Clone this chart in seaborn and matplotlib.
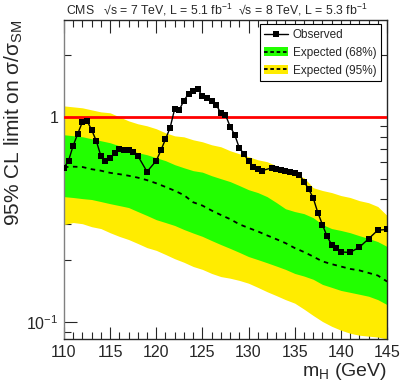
import numpy as np
import pandas as pd
import matplotlib
matplotlib.use("Agg")
import matplotlib.pyplot as plt
import seaborn as sns
from matplotlib.patches import Patch
from matplotlib.lines import Line2D
from matplotlib.ticker import FixedLocator, LogLocator, NullFormatter, MultipleLocator

# observed limit (mH in GeV, limit on sigma/sigma_SM)
obs_mass = [110.0, 110.5, 111.0, 111.5, 112.0, 112.5, 113.0, 113.5, 114.0, 114.5,
            115.0, 115.5, 116.0, 116.5, 117.0, 117.5, 118.0, 119.0, 120.0, 120.5,
            121.0, 121.5, 122.0, 122.5, 123.0, 123.5, 124.0, 124.5, 125.0, 125.5,
            126.0, 126.5, 127.0, 127.5, 128.0, 128.5, 129.0, 129.5, 130.0, 130.5,
            131.0, 131.5, 132.5, 133.0, 133.5, 134.0, 134.5, 135.0, 135.5, 136.0,
            136.5, 137.0, 137.5, 138.0, 138.5, 139.0, 139.5, 140.0, 141.0, 142.0,
            143.0, 144.0, 145.0]
obs_limit = [0.564, 0.611, 0.723, 0.827, 0.943, 0.956, 0.865, 0.765, 0.647, 0.607,
             0.627, 0.664, 0.697, 0.692, 0.686, 0.671, 0.647, 0.541, 0.611, 0.686,
             0.778, 0.884, 1.094, 1.081, 1.200, 1.293, 1.337, 1.363, 1.264, 1.236,
             1.200, 1.144, 1.042, 1.023, 0.897, 0.818, 0.705, 0.661, 0.607, 0.570,
             0.557, 0.548, 0.564, 0.557, 0.553, 0.543, 0.537, 0.533, 0.523, 0.484,
             0.446, 0.403, 0.342, 0.299, 0.262, 0.239, 0.229, 0.220, 0.219, 0.232,
             0.255, 0.281, 0.283]

# expected limit and bands, 1 GeV steps
exp_mass = list(range(110, 146))
exp_median = [0.569, 0.572, 0.570, 0.556, 0.547, 0.534, 0.526, 0.517, 0.506, 0.492,
              0.475, 0.456, 0.437, 0.416, 0.384, 0.370, 0.350, 0.333, 0.318, 0.300,
              0.288, 0.277, 0.265, 0.254, 0.243, 0.230, 0.220, 0.209, 0.198, 0.192,
              0.187, 0.182, 0.179, 0.174, 0.169, 0.158]
band68_hi = [0.818, 0.809, 0.800, 0.782, 0.765, 0.748, 0.723, 0.692, 0.669, 0.654,
             0.632, 0.612, 0.585, 0.565, 0.547, 0.538, 0.517, 0.500, 0.484, 0.463,
             0.442, 0.428, 0.409, 0.383, 0.357, 0.346, 0.338, 0.323, 0.299, 0.286,
             0.280, 0.273, 0.264, 0.256, 0.247, 0.234]
band68_lo = [0.409, 0.405, 0.400, 0.396, 0.387, 0.378, 0.370, 0.362, 0.346, 0.331,
             0.316, 0.306, 0.296, 0.283, 0.272, 0.262, 0.250, 0.239, 0.229, 0.219,
             0.209, 0.202, 0.195, 0.188, 0.181, 0.173, 0.168, 0.162, 0.153, 0.148,
             0.143, 0.140, 0.137, 0.134, 0.129, 0.122]
band95_hi = [1.130, 1.118, 1.106, 1.081, 1.057, 1.046, 1.000, 0.956, 0.925, 0.904,
             0.875, 0.836, 0.808, 0.799, 0.773, 0.756, 0.731, 0.715, 0.684, 0.661,
             0.640, 0.618, 0.605, 0.578, 0.553, 0.523, 0.506, 0.452, 0.438, 0.428,
             0.414, 0.405, 0.391, 0.382, 0.366, 0.331]
band95_lo = [0.299, 0.306, 0.302, 0.292, 0.286, 0.273, 0.262, 0.253, 0.242, 0.231,
             0.224, 0.214, 0.204, 0.196, 0.187, 0.181, 0.173, 0.167, 0.164, 0.160,
             0.155, 0.148, 0.141, 0.135, 0.129, 0.124, 0.116, 0.108, 0.101, 0.0957,
             0.0916, 0.0885, 0.0866, 0.0857, 0.0848, 0.0830]

obs = pd.DataFrame({"mH": obs_mass, "limit": obs_limit})
exp = pd.DataFrame({"mH": exp_mass, "median": exp_median,
                    "lo68": band68_lo, "hi68": band68_hi,
                    "lo95": band95_lo, "hi95": band95_hi})

sns.set_style("ticks")
plt.rcParams['font.family'] = ['Liberation Sans', 'DejaVu Sans']
plt.rcParams['mathtext.fontset'] = 'custom'
plt.rcParams['mathtext.rm'] = 'Liberation Sans'
plt.rcParams['mathtext.it'] = 'Liberation Sans'

green = '#22ff00'
yellow = '#ffec00'

fig, ax = plt.subplots(figsize=(4.07, 3.91), dpi=100)
fig.subplots_adjust(left=0.157, right=0.951, bottom=0.133, top=0.949)

ax.fill_between(exp["mH"], exp["lo95"], exp["hi95"], color=yellow, lw=0, zorder=1)
ax.fill_between(exp["mH"], exp["lo68"], exp["hi68"], color=green, lw=0, zorder=2)
sns.lineplot(data=exp, x="mH", y="median", ax=ax, color='black', lw=1.3,
             linestyle=(0, (2.5, 2.5)), zorder=3)
ax.axhline(1.0, color='#ff0000', lw=2, zorder=4)
sns.lineplot(data=obs, x="mH", y="limit", ax=ax, color='black', lw=1,
             marker='s', markersize=4, markeredgewidth=0, zorder=5)

ax.set_yscale('log')
ax.set_xlim(110, 145)
ax.set_ylim(0.083, 2.96)

ax.xaxis.set_major_locator(MultipleLocator(5))
ax.xaxis.set_minor_locator(MultipleLocator(1))
ax.yaxis.set_major_locator(FixedLocator([0.1, 1.0]))
ax.yaxis.set_minor_locator(LogLocator(base=10, subs=np.arange(2, 10)))
ax.yaxis.set_minor_formatter(NullFormatter())
ax.set_yticklabels(['$10^{-1}$', '1'])
ax.tick_params(which='both', direction='in', top=True, right=True, labelsize=11.5, pad=4)
ax.tick_params(which='major', length=9, width=0.8)
ax.tick_params(which='minor', length=5, width=0.8)
for s in ax.spines.values():
    s.set_linewidth(1)
ax.spines['left'].set_color('#808080')

ax.set_xlabel('m$_{\\mathrm{H}}$ (GeV)', fontsize=14, loc='right', labelpad=1)
ax.set_ylabel('95% CL limit on σ/σ$_{\\mathrm{SM}}$', fontsize=15, loc='top', labelpad=1)

ax.text(0.005, 1.006, 'CMS   \u221as = 7 TeV, L = 5.1 fb$^{-1}$  \u221as = 8 TeV, L = 5.3 fb$^{-1}$',
        transform=ax.transAxes, fontsize=8.8, ha='left', va='bottom')

h_obs = Line2D([], [], color='black', lw=1, marker='s', markersize=4, markeredgewidth=0)
dash = Line2D([], [], color='black', lw=1.3, linestyle=(0, (2, 1.5)))
h68 = (Patch(facecolor=green, edgecolor='none'), dash)
h95 = (Patch(facecolor=yellow, edgecolor='none'), dash)
leg = ax.legend([h_obs, h68, h95], ['Observed', 'Expected (68%)', 'Expected (95%)'],
                loc='upper right', bbox_to_anchor=(0.981, 0.987), borderaxespad=0,
                fontsize=8.5, frameon=True, fancybox=False, framealpha=1,
                edgecolor='black', handlelength=2.0, handletextpad=0.4,
                labelspacing=0.5, borderpad=0.4)
leg.get_frame().set_linewidth(0.8)
leg.set_zorder(10)

fig.savefig('out.png', dpi=100)
